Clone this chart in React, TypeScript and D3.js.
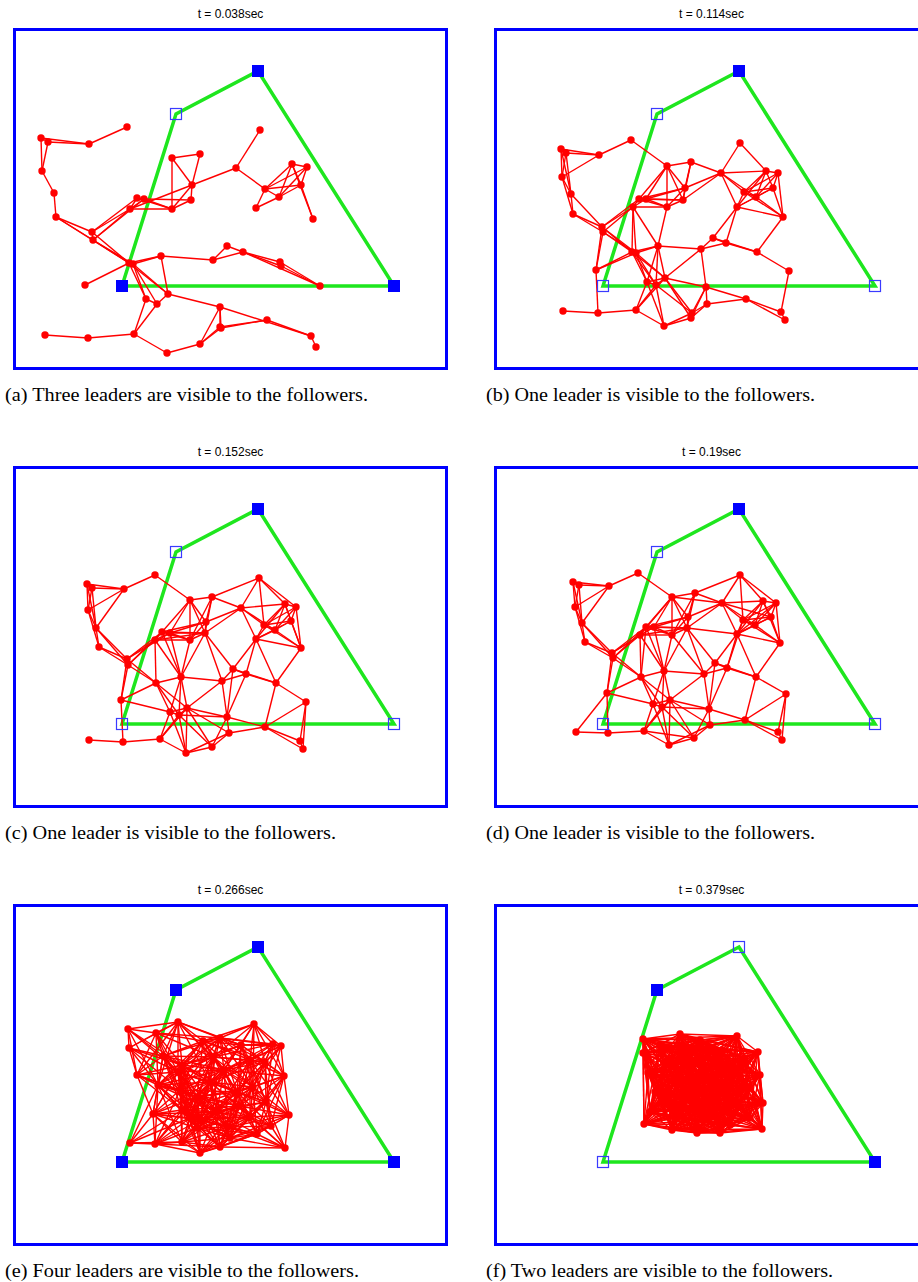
import React from "react";
import * as d3 from "d3";

// ---------- data (panel-local units: x right, y up; box = 435 x 342) ----------
const leaders: [number, number][] = [
  [109, 84], [163, 256], [245, 299], [381, 84],
];

const titles = ["t = 0.038sec", "t = 0.114sec", "t = 0.152sec", "t = 0.19sec", "t = 0.266sec", "t = 0.379sec"];
const captions = [
  "(a) Three leaders are visible to the followers.",
  "(b) One leader is visible to the followers.",
  "(c) One leader is visible to the followers.",
  "(d) One leader is visible to the followers.",
  "(e) Four leaders are visible to the followers.",
  "(f) Two leaders are visible to the followers.",
];
// 1 = leader visible (filled square), 0 = not visible (hollow square)
const visibleA = [1, 0, 1, 1];
const visibleB = [0, 0, 1, 0];
const visibleC = [0, 0, 1, 0];
const visibleD = [0, 0, 1, 0];
const visibleE = [1, 1, 1, 1];
const visibleF = [0, 1, 0, 1];

const nodesA: [number, number][] = [
  [114, 243], [28, 232], [35, 228], [76, 226], [29, 199], [41, 177], [43, 153], [79, 138], [80, 130], [116, 107],
  [120, 106], [72, 85], [124, 172], [131, 171], [117, 161], [159, 161], [178, 170], [179, 185], [159, 212], [187, 216],
  [223, 202], [247, 240], [252, 181], [279, 206], [294, 203], [288, 185], [266, 173], [243, 162], [300, 151], [148, 114],
  [200, 110], [214, 124], [230, 118], [267, 108], [268, 104], [307, 84], [133, 71], [144, 66], [155, 76], [207, 63],
  [207, 43], [208, 42], [254, 50], [298, 34], [303, 23], [32, 35], [75, 32], [121, 36], [154, 17], [187, 26],
];
// links between followers in (a), by node number (1-based)
const edgesA: [number, number][] = [
  [1, 4], [4, 2], [4, 3], [2, 3], [2, 5], [3, 5], [5, 6], [6, 7], [7, 8], [7, 9], [7, 10], [8, 9], [8, 10], [9, 10],
  [9, 11], [10, 11], [8, 13], [8, 15], [9, 15], [9, 14], [13, 14], [13, 15], [14, 15], [13, 16], [14, 16], [15, 16],
  [14, 17], [16, 17], [15, 18], [17, 18], [16, 19], [16, 18], [18, 19], [18, 20], [19, 20], [18, 21], [21, 22],
  [21, 23], [23, 24], [23, 25], [23, 26], [23, 27], [23, 28], [24, 25], [24, 26], [24, 27], [25, 26], [25, 27],
  [26, 27], [26, 29], [24, 29], [27, 28], [10, 12], [10, 30], [11, 30], [30, 31], [31, 32], [31, 33], [32, 33],
  [33, 34], [33, 35], [34, 36], [35, 36], [33, 36], [10, 37], [11, 37], [10, 39], [11, 39], [11, 38], [30, 39],
  [37, 38], [38, 39], [37, 48], [38, 48], [39, 40], [40, 44], [40, 41], [40, 42], [41, 43], [42, 43], [41, 50],
  [42, 50], [40, 50], [43, 44], [44, 45], [46, 47], [47, 48], [48, 49], [49, 50],
];

const nodesB: [number, number][] = [
  [67, 221], [72, 217], [105, 215], [137, 230], [68, 193], [77, 176], [79, 156], [108, 143], [109, 138], [102, 100],
  [69, 59], [104, 57], [142, 60], [170, 44], [197, 52], [198, 57], [213, 66], [212, 83], [252, 71], [287, 58],
  [291, 50], [295, 99], [263, 118], [232, 127], [219, 132], [207, 121], [164, 124], [138, 118], [142, 117], [171, 92],
  [162, 85], [153, 88], [139, 163], [145, 171], [152, 171], [173, 163], [189, 170], [191, 182], [173, 204], [197, 208],
  [227, 197], [246, 227], [243, 163], [250, 178], [262, 173], [272, 199], [284, 197], [279, 182], [289, 153],
];

const nodesC: [number, number][] = [
  [74, 224], [79, 220], [111, 219], [142, 233], [75, 198], [83, 180], [86, 161], [114, 149], [115, 143], [108, 108],
  [76, 68], [110, 66], [147, 69], [173, 55], [199, 61], [216, 75], [214, 91], [252, 81], [287, 67], [290, 59],
  [293, 106], [263, 125], [233, 134], [220, 139], [209, 127], [168, 131], [143, 125], [157, 96], [166, 93], [174, 100],
  [142, 168], [149, 176], [177, 168], [192, 175], [193, 186], [177, 208], [199, 211], [228, 200], [246, 230], [243, 169],
  [251, 183], [262, 178], [272, 204], [283, 201], [278, 187], [288, 160], [157, 175],
];

const nodesD: [number, number][] = [
  [79, 226], [85, 223], [115, 222], [144, 235], [81, 201], [88, 185], [91, 166], [118, 155], [119, 150], [113, 115],
  [82, 76], [114, 75], [150, 77], [175, 63], [200, 70], [216, 83], [215, 99], [251, 88], [284, 76], [288, 68],
  [292, 114], [262, 131], [233, 140], [221, 145], [210, 134], [170, 137], [147, 131], [159, 104], [168, 101], [176, 108],
  [146, 173], [152, 181], [178, 173], [193, 180], [194, 191], [178, 211], [201, 215], [228, 205], [246, 233], [243, 174],
  [249, 188], [261, 183], [269, 207], [282, 205], [277, 191], [286, 165], [160, 181],
];

const nodesE: [number, number][] = [
  [115, 217], [143, 213], [165, 224], [241, 222], [116, 198], [124, 171], [145, 161], [140, 132], [117, 103], [142, 102],
  [169, 104], [187, 93], [207, 99], [217, 108], [244, 112], [272, 98], [276, 131], [253, 144], [271, 170], [268, 200],
  [260, 202], [207, 208], [190, 205], [228, 201], [169, 181], [200, 189], [237, 186], [252, 184], [224, 154], [184, 149],
  [167, 156], [169, 136], [187, 126], [204, 134], [215, 119], [177, 128], [197, 164], [240, 159], [237, 129], [165, 174],
  [184, 118], [211, 176], [226, 140], [258, 120], [150, 190],
];

const nodesF: [number, number][] = [
  [149, 207], [186, 212], [243, 210], [264, 194], [149, 193], [154, 173], [266, 171], [269, 143], [268, 117], [150, 122],
  [203, 113], [169, 144], [216, 199], [166, 201], [206, 206], [228, 196], [251, 188], [171, 184], [196, 186], [241, 178],
  [181, 166], [206, 168], [226, 161], [254, 158], [161, 154], [194, 148], [218, 144], [244, 141], [156, 134], [181, 128],
  [211, 126], [236, 121], [256, 128], [178, 116], [226, 113], [189, 198], [203, 136], [234, 154],
];

// communication range used to link followers in panels (b)-(f)
const rangeByPanel = [0, 48, 51, 51, 68, 100];

// ---------- layout ----------
const BOX_W = 435;
const BOX_H = 342;
const COL_X = [13, 494];
const ROW_Y = [28, 466, 904];
const CAPTION_W = [363, 329, 331, 329, 354, 347];

function rangeEdges(nodes: [number, number][], r: number): [number, number][] {
  const out: [number, number][] = [];
  for (let i = 0; i < nodes.length; i++)
    for (let j = i + 1; j < nodes.length; j++) {
      const dx = nodes[i][0] - nodes[j][0];
      const dy = nodes[i][1] - nodes[j][1];
      if (Math.hypot(dx, dy) <= r) out.push([i, j]);
    }
  return out;
}

const panelNodes = [nodesA, nodesB, nodesC, nodesD, nodesE, nodesF];
const panelVisible = [visibleA, visibleB, visibleC, visibleD, visibleE, visibleF];

const RED = "#ff0000";
const BLUE = "#0000ff";
const GREEN = "#1ee61e";

function Panel({ idx }: { idx: number }) {
  const col = idx % 2;
  const row = Math.floor(idx / 2);
  const ox = COL_X[col];
  const oy = ROW_Y[row];
  const x = d3.scaleLinear().domain([0, BOX_W]).range([0, BOX_W]);
  const y = d3.scaleLinear().domain([0, BOX_H]).range([BOX_H, 0]);
  const nodes = panelNodes[idx];
  const edges: [number, number][] =
    idx === 0 ? edgesA.map(([a, b]) => [a - 1, b - 1] as [number, number]) : rangeEdges(nodes, rangeByPanel[idx]);
  const poly = d3
    .line<[number, number]>()
    .x((d) => x(d[0]))
    .y((d) => y(d[1]))
    .curve(d3.curveLinearClosed)(leaders) as string;
  const vis = panelVisible[idx];
  return (
    <g transform={`translate(${ox},${oy})`}>
      <text
        x={BOX_W / 2}
        y={-10}
        textAnchor="middle"
        fontFamily="Liberation Sans, Arial, sans-serif"
        fontSize={12}
        fill="#000"
      >
        {titles[idx]}
      </text>
      <rect x={1.5} y={1.5} width={BOX_W - 3} height={BOX_H - 3} fill="#fff" stroke={BLUE} strokeWidth={3} />
      <path d={poly} fill="none" stroke={GREEN} strokeWidth={3.5} strokeLinejoin="miter" />
      <g stroke={RED} strokeWidth={1.4}>
        {edges.map(([a, b], k) => (
          <line key={k} x1={x(nodes[a][0])} y1={y(nodes[a][1])} x2={x(nodes[b][0])} y2={y(nodes[b][1])} />
        ))}
      </g>
      <g fill={RED}>
        {nodes.map((n, k) => (
          <circle key={k} cx={x(n[0])} cy={y(n[1])} r={3.7} />
        ))}
      </g>
      {leaders.map((l, k) =>
        vis[k] ? (
          <rect key={k} x={x(l[0]) - 6} y={y(l[1]) - 6} width={12} height={12} fill={BLUE} />
        ) : (
          <rect
            key={k}
            x={x(l[0]) - 5.5}
            y={y(l[1]) - 5.5}
            width={11}
            height={11}
            fill="none"
            stroke="#3a3aff"
            strokeWidth={1.2}
          />
        )
      )}
      <text
        x={-8}
        y={BOX_H + 31}
        fontFamily="Liberation Serif, 'Times New Roman', serif"
        fontSize={19}
        fill="#000"
        textLength={CAPTION_W[idx]}
        lengthAdjust="spacingAndGlyphs"
      >
        {captions[idx]}
      </text>
    </g>
  );
}

export default function App() {
  return (
    <svg
      width={918}
      height={1282}
      style={{ position: "absolute", left: 0, top: 0, background: "#fff" }}
      overflow="hidden"
    >
      <rect x={0} y={0} width={918} height={1282} fill="#fff" />
      {[0, 1, 2, 3, 4, 5].map((i) => (
        <Panel key={i} idx={i} />
      ))}
    </svg>
  );
}
